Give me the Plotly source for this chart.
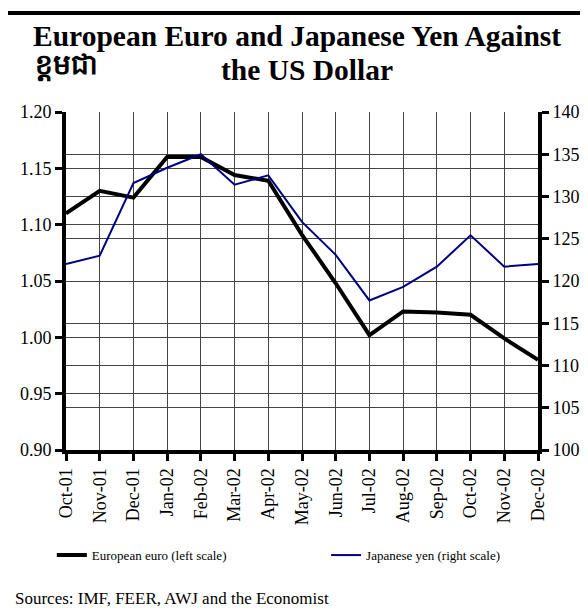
import plotly.graph_objects as go

months = ["Oct-01", "Nov-01", "Dec-01", "Jan-02", "Feb-02", "Mar-02", "Apr-02",
          "May-02", "Jun-02", "Jul-02", "Aug-02", "Sep-02", "Oct-02", "Nov-02", "Dec-02"]
euro = [1.110, 1.130, 1.124, 1.160, 1.160, 1.144, 1.139, 1.091, 1.048, 1.002,
        1.023, 1.022, 1.020, 0.999, 0.980]
yen = [122.0, 123.0, 131.6, 133.4, 135.0, 131.4, 132.5, 127.0, 123.1, 117.7,
       119.3, 121.7, 125.4, 121.7, 122.0]

title_l1 = "European Euro and Japanese Yen Against"
title_l2 = "the US Dollar"
khmer = "ខ្ដមជា"
source = "Sources: IMF, FEER, AWJ and the Economist"

SERIF = "Liberation Serif"

fig = go.Figure()
fig.add_trace(go.Scatter(x=months, y=euro, name="European euro (left scale)",
                         mode="lines", line=dict(color="black", width=4),
                         legend="legend"))
fig.add_trace(go.Scatter(x=months, y=yen, name="Japanese yen (right scale)",
                         mode="lines", line=dict(color="#000080", width=2), yaxis="y2",
                         legend="legend2"))

axis_common = dict(showline=True, linecolor="black", linewidth=4, ticks="outside",
                   ticklen=7, tickwidth=3, tickcolor="black",
                   tickfont=dict(family=SERIF, size=18, color="black"),
                   showgrid=True, gridcolor="#444444", gridwidth=1, zeroline=False)

leg_common = dict(orientation="h", xanchor="left", yanchor="middle",
                  font=dict(family=SERIF, size=13, color="black"),
                  bgcolor="rgba(0,0,0,0)", borderwidth=0)

fig.update_layout(
    width=588, height=608,
    margin=dict(l=58, r=58, t=104, b=166),
    paper_bgcolor="white", plot_bgcolor="white",
    font=dict(family=SERIF, color="black"),
    xaxis=dict(type="category", range=[0, 14], tickangle=-90, **axis_common),
    yaxis=dict(range=[0.90, 1.20], dtick=0.05, tickformat=".2f", **axis_common),
    yaxis2=dict(range=[100, 140], dtick=5, overlaying="y", side="right",
                **axis_common),
    showlegend=True,
    legend=dict(x=-0.03, y=-0.311, **leg_common),
    legend2=dict(x=0.551, y=-0.311, **leg_common),
)

fig.add_shape(type="line", xref="paper", yref="paper", x0=-0.13, x1=1.13,
              y0=1.293, y1=1.293, line=dict(color="black", width=4))

fig.add_annotation(text="<b>" + title_l1 + "</b>",
                   xref="paper", yref="paper", x=0.49, y=1 + (104 - 28) / 338,
                   xanchor="center", yanchor="middle", showarrow=False,
                   font=dict(family=SERIF, size=29.5, color="black"))
fig.add_annotation(text="<b>" + title_l2 + "</b>",
                   xref="paper", yref="paper", x=0.51, y=1 + (104 - 62) / 338,
                   xanchor="center", yanchor="middle", showarrow=False,
                   font=dict(family=SERIF, size=29.5, color="black"))
fig.add_annotation(text="<b>" + khmer + "</b>", xref="paper", yref="paper",
                   x=-0.07, y=1 + (104 - 58) / 338, xanchor="left", yanchor="middle",
                   showarrow=False, font=dict(size=28, color="black"))
fig.add_annotation(text=source, xref="paper", yref="paper", x=-0.112, y=-0.44,
                   xanchor="left", yanchor="middle", showarrow=False,
                   font=dict(family=SERIF, size=17, color="black"))

fig.write_html("out.html")
